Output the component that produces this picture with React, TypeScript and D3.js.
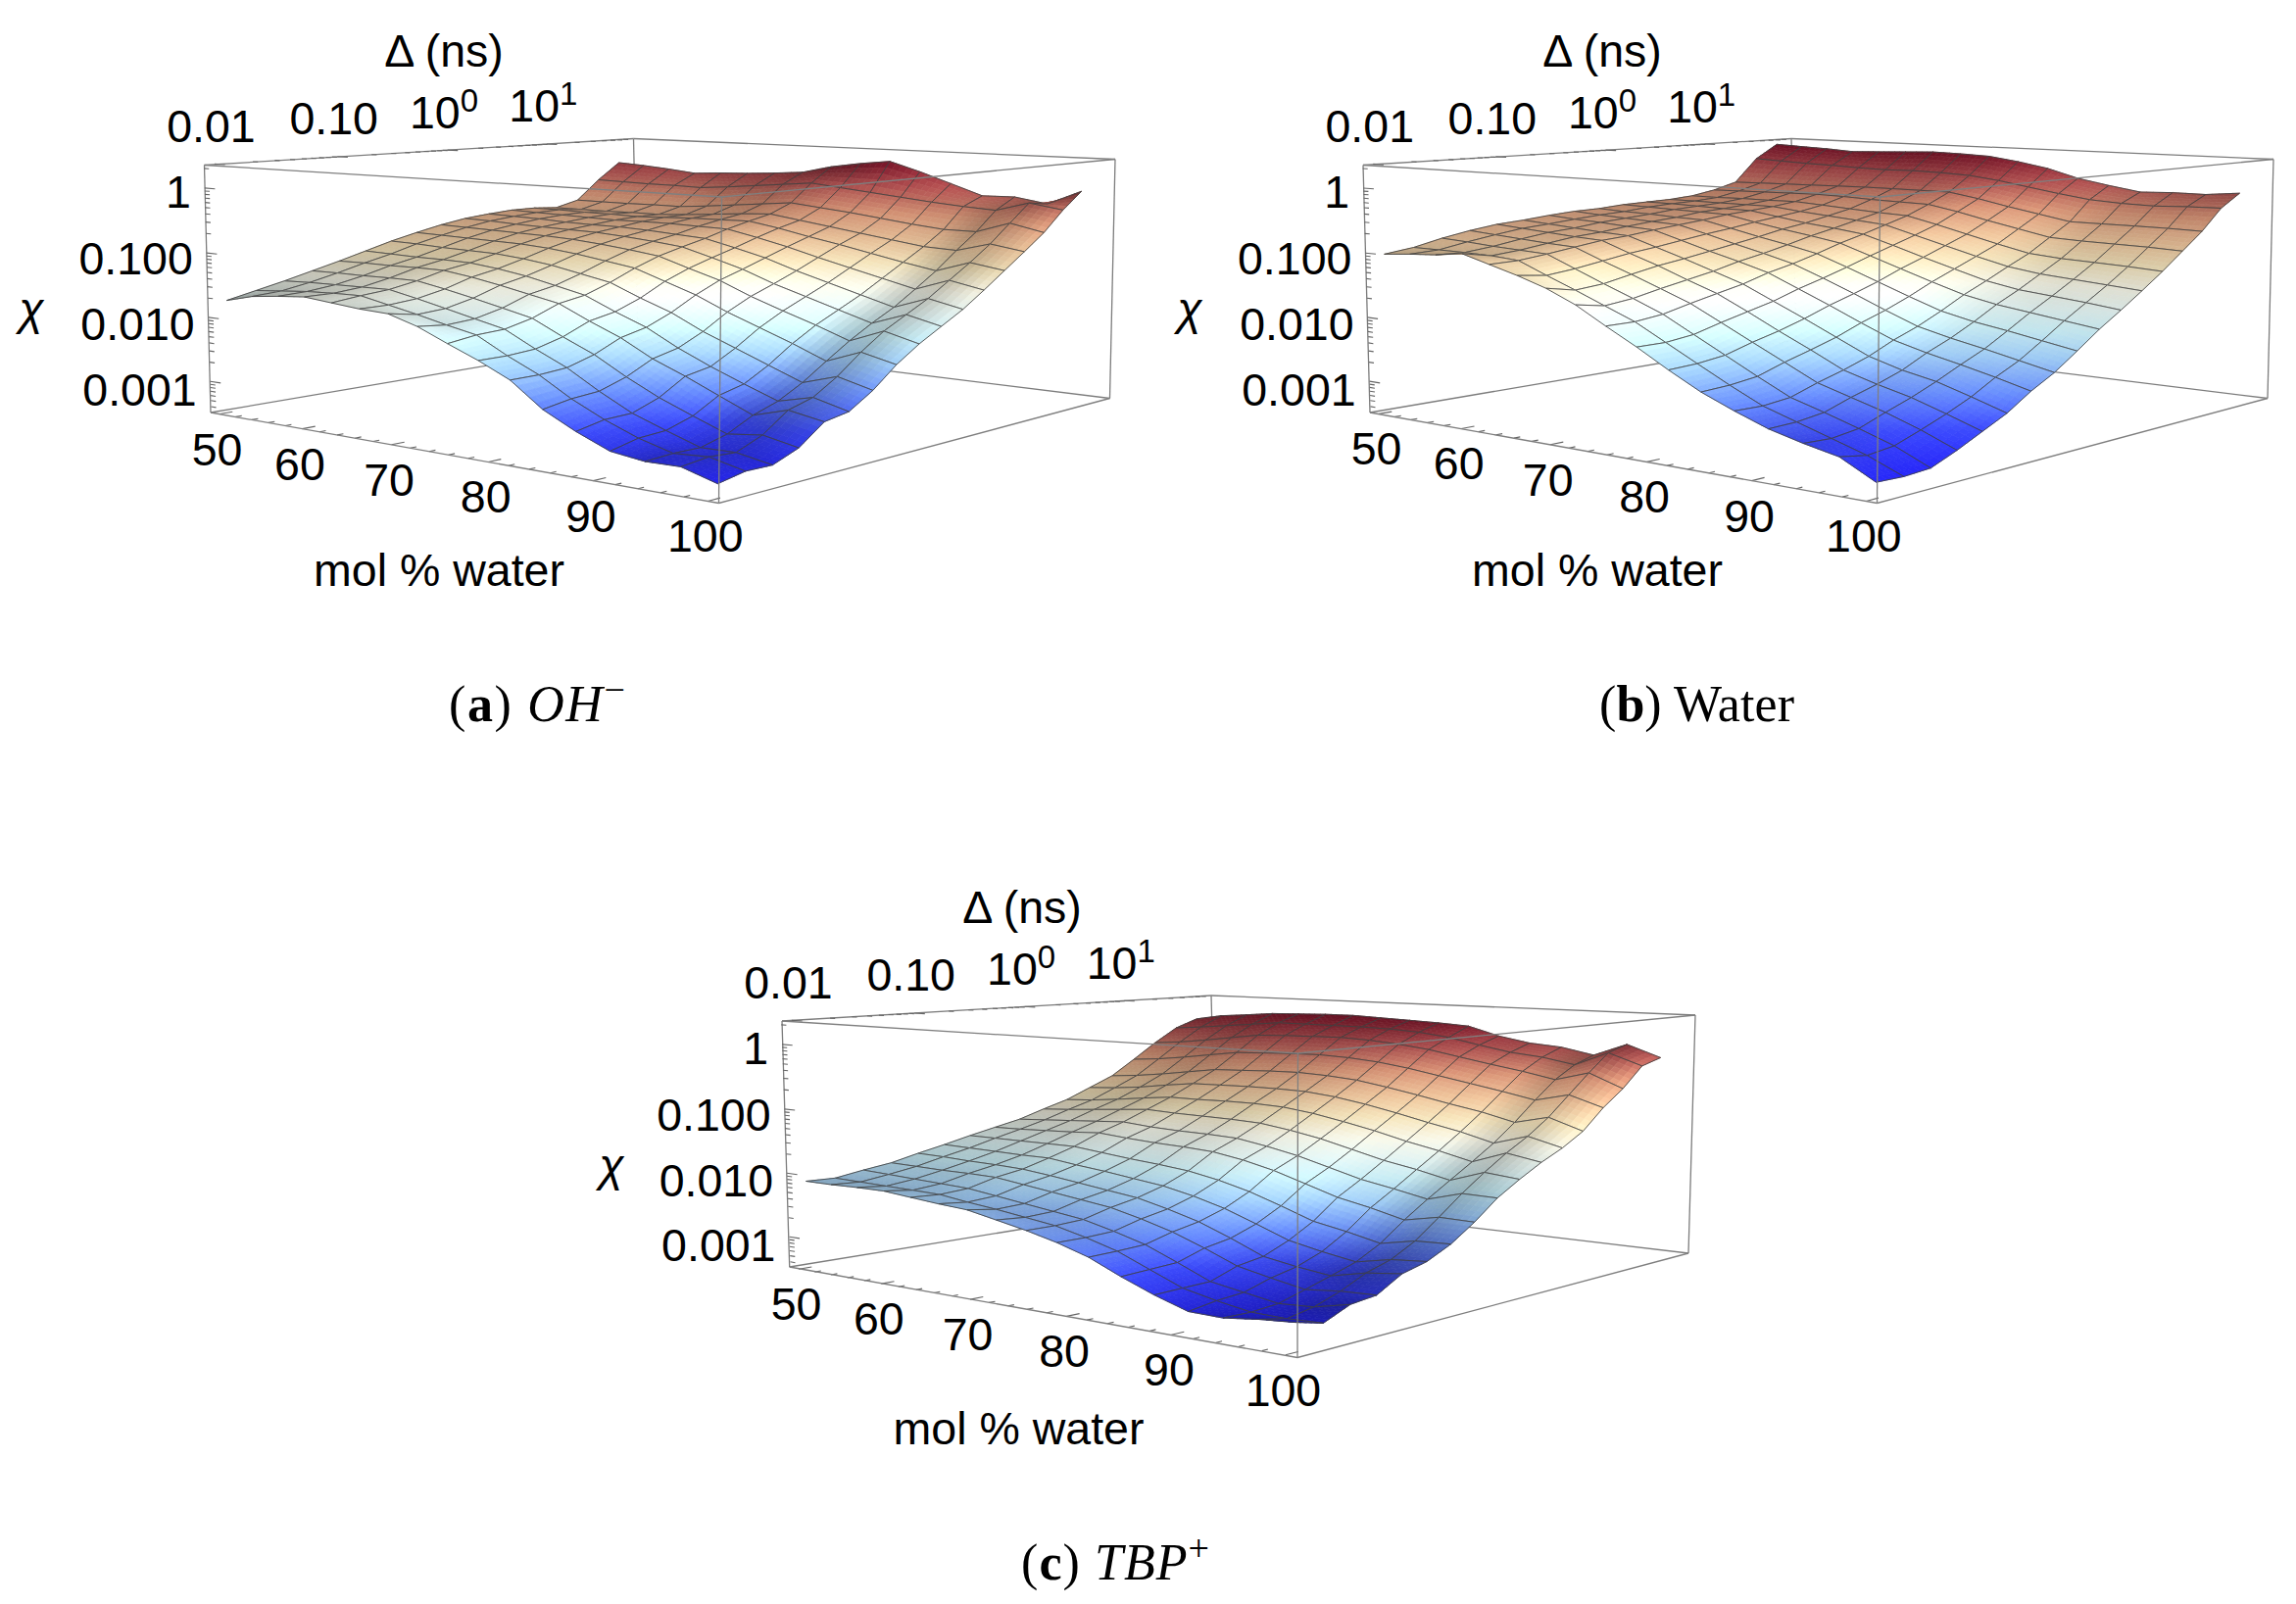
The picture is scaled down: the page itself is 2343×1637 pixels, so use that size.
import React, { useEffect, useRef } from "react";
import * as d3 from "d3";

const molTicks = [50, 60, 70, 80, 90, 100];
const deltaTickLabels = [
  { log: -2, base: "0.01", sup: "" },
  { log: -1, base: "0.10", sup: "" },
  { log: 0, base: "10", sup: "0" },
  { log: 1, base: "10", sup: "1" },
];
const chiTickLabels = [
  { log: 0, text: "1" },
  { log: -1, text: "0.100" },
  { log: -2, text: "0.010" },
  { log: -3, text: "0.001" },
];
const molGrid = [50, 53.125, 56.25, 59.375, 62.5, 65.625, 68.75, 71.875, 75, 78.125, 81.25, 84.375, 87.5, 90.625, 93.75, 96.875, 100];
const logDeltaGrid = [-2, -1.769, -1.538, -1.306, -1.075, -0.844, -0.613, -0.381, -0.15, 0.081, 0.313, 0.544, 0.775, 1.006, 1.238, 1.469, 1.7];

// log10(chi): one row per mol % water, one column per log10(delta)
const logChiOH = [
  [-1.74, -1.64, -1.54, -1.43, -1.32, -1.2, -1.08, -0.98, -0.89, -0.82, -0.78, -0.75, -0.75, -0.78, -0.68, -0.34, -0.05],
  [-1.63, -1.6, -1.52, -1.42, -1.31, -1.21, -1.09, -0.99, -0.9, -0.83, -0.79, -0.76, -0.75, -0.78, -0.68, -0.35, -0.08],
  [-1.58, -1.56, -1.51, -1.42, -1.31, -1.22, -1.11, -1.0, -0.91, -0.85, -0.8, -0.77, -0.76, -0.78, -0.68, -0.36, -0.12],
  [-1.54, -1.54, -1.5, -1.41, -1.3, -1.22, -1.12, -1.01, -0.92, -0.86, -0.82, -0.78, -0.76, -0.77, -0.67, -0.36, -0.17],
  [-1.58, -1.53, -1.49, -1.41, -1.3, -1.23, -1.13, -1.02, -0.93, -0.87, -0.83, -0.79, -0.77, -0.77, -0.67, -0.37, -0.14],
  [-1.62, -1.62, -1.58, -1.49, -1.36, -1.28, -1.17, -1.05, -0.95, -0.88, -0.83, -0.78, -0.75, -0.74, -0.63, -0.33, -0.12],
  [-1.64, -1.71, -1.68, -1.58, -1.44, -1.35, -1.23, -1.1, -0.99, -0.91, -0.85, -0.78, -0.73, -0.7, -0.58, -0.28, -0.09],
  [-1.77, -1.81, -1.78, -1.68, -1.53, -1.45, -1.32, -1.17, -1.04, -0.95, -0.88, -0.79, -0.72, -0.66, -0.53, -0.23, -0.05],
  [-1.96, -1.9, -1.88, -1.78, -1.62, -1.55, -1.41, -1.24, -1.1, -1.0, -0.91, -0.8, -0.71, -0.63, -0.48, -0.18, 0.07],
  [-2.14, -2.14, -2.11, -2.0, -1.83, -1.75, -1.6, -1.4, -1.25, -1.13, -1.02, -0.9, -0.79, -0.7, -0.53, -0.23, 0.15],
  [-2.35, -2.35, -2.32, -2.2, -2.02, -1.93, -1.77, -1.56, -1.39, -1.27, -1.14, -1.01, -0.89, -0.77, -0.58, -0.28, 0.21],
  [-2.69, -2.62, -2.59, -2.46, -2.27, -2.18, -2.0, -1.77, -1.59, -1.45, -1.3, -1.14, -0.98, -0.84, -0.64, -0.33, 0.06],
  [-2.92, -2.84, -2.83, -2.69, -2.46, -2.39, -2.19, -1.95, -1.76, -1.6, -1.44, -1.26, -1.08, -0.91, -0.7, -0.38, -0.11],
  [-3.11, -3.02, -3.0, -2.88, -2.67, -2.58, -2.38, -2.13, -1.92, -1.75, -1.58, -1.38, -1.18, -0.98, -0.75, -0.42, -0.28],
  [-3.17, -3.15, -3.16, -3.06, -2.88, -2.76, -2.57, -2.33, -2.1, -1.9, -1.72, -1.5, -1.27, -1.0, -0.75, -0.45, -0.27],
  [-3.16, -3.12, -3.15, -3.0, -2.74, -2.64, -2.42, -2.14, -1.9, -1.72, -1.54, -1.32, -1.1, -0.86, -0.58, -0.3, -0.35],
  [-3.3, -3.23, -3.24, -3.1, -2.83, -2.77, -2.55, -2.26, -2.03, -1.84, -1.65, -1.42, -1.18, -0.94, -0.69, -0.38, -0.12],
];
const logChiWater = [
  [-1.02, -0.96, -0.86, -0.78, -0.72, -0.69, -0.65, -0.62, -0.61, -0.58, -0.57, -0.56, -0.53, -0.46, -0.35, 0.05, 0.29],
  [-0.98, -0.96, -0.88, -0.81, -0.75, -0.72, -0.68, -0.65, -0.63, -0.59, -0.57, -0.56, -0.53, -0.45, -0.34, 0.03, 0.27],
  [-0.95, -0.96, -0.91, -0.84, -0.78, -0.75, -0.7, -0.67, -0.64, -0.6, -0.58, -0.56, -0.52, -0.44, -0.33, 0.01, 0.25],
  [-0.89, -0.97, -0.93, -0.87, -0.81, -0.78, -0.73, -0.69, -0.66, -0.61, -0.59, -0.56, -0.52, -0.43, -0.32, 0.0, 0.22],
  [-1.01, -1.0, -0.95, -0.89, -0.83, -0.8, -0.75, -0.71, -0.67, -0.62, -0.59, -0.56, -0.51, -0.42, -0.31, -0.02, 0.24],
  [-1.13, -1.18, -1.13, -1.06, -0.99, -0.94, -0.88, -0.82, -0.77, -0.71, -0.66, -0.61, -0.54, -0.43, -0.3, -0.03, 0.26],
  [-1.27, -1.35, -1.31, -1.22, -1.14, -1.08, -1.01, -0.94, -0.87, -0.79, -0.73, -0.65, -0.57, -0.45, -0.3, -0.02, 0.28],
  [-1.46, -1.53, -1.48, -1.39, -1.31, -1.23, -1.13, -1.05, -0.96, -0.86, -0.78, -0.69, -0.6, -0.46, -0.3, -0.03, 0.27],
  [-1.71, -1.71, -1.66, -1.56, -1.47, -1.38, -1.26, -1.17, -1.06, -0.94, -0.84, -0.73, -0.62, -0.47, -0.3, -0.05, 0.25],
  [-1.95, -1.95, -1.9, -1.79, -1.69, -1.59, -1.46, -1.35, -1.23, -1.1, -0.98, -0.86, -0.73, -0.56, -0.38, -0.11, 0.18],
  [-2.21, -2.19, -2.14, -2.02, -1.92, -1.8, -1.66, -1.54, -1.41, -1.26, -1.13, -0.99, -0.85, -0.67, -0.48, -0.19, 0.09],
  [-2.45, -2.43, -2.38, -2.25, -2.14, -2.02, -1.87, -1.74, -1.59, -1.42, -1.27, -1.12, -0.97, -0.77, -0.57, -0.27, -0.05],
  [-2.64, -2.65, -2.61, -2.48, -2.37, -2.24, -2.07, -1.93, -1.76, -1.57, -1.41, -1.24, -1.08, -0.87, -0.66, -0.34, -0.14],
  [-2.81, -2.8, -2.75, -2.62, -2.51, -2.38, -2.2, -2.05, -1.87, -1.67, -1.5, -1.31, -1.12, -0.89, -0.66, -0.37, -0.22],
  [-2.93, -2.95, -2.9, -2.76, -2.63, -2.48, -2.31, -2.15, -1.95, -1.74, -1.55, -1.35, -1.14, -0.9, -0.66, -0.38, -0.2],
  [-3.03, -3.1, -3.06, -2.93, -2.79, -2.63, -2.43, -2.26, -2.04, -1.81, -1.6, -1.39, -1.16, -0.91, -0.66, -0.36, -0.2],
  [-3.28, -3.3, -3.28, -3.13, -2.96, -2.79, -2.56, -2.37, -2.13, -1.88, -1.66, -1.43, -1.19, -0.93, -0.67, -0.35, -0.15],
];
const logChiTBP = [
  [-2.13, -2.14, -2.07, -2.01, -1.91, -1.82, -1.72, -1.63, -1.54, -1.41, -1.29, -1.12, -0.95, -0.69, -0.42, -0.18, -0.04],
  [-2.13, -2.15, -2.09, -2.02, -1.92, -1.83, -1.72, -1.62, -1.51, -1.38, -1.26, -1.09, -0.91, -0.65, -0.38, -0.14, 0.04],
  [-2.12, -2.16, -2.11, -2.03, -1.94, -1.84, -1.72, -1.6, -1.48, -1.34, -1.21, -1.04, -0.85, -0.59, -0.32, -0.09, 0.08],
  [-2.12, -2.17, -2.13, -2.03, -1.95, -1.85, -1.72, -1.58, -1.45, -1.3, -1.15, -0.97, -0.78, -0.52, -0.25, -0.04, 0.125],
  [-2.16, -2.18, -2.15, -2.04, -1.97, -1.85, -1.72, -1.55, -1.42, -1.26, -1.1, -0.91, -0.71, -0.45, -0.18, 0.01, 0.14],
  [-2.2, -2.24, -2.21, -2.1, -2.02, -1.91, -1.77, -1.59, -1.46, -1.28, -1.1, -0.9, -0.69, -0.43, -0.16, 0.01, 0.155],
  [-2.23, -2.29, -2.27, -2.16, -2.08, -1.96, -1.82, -1.62, -1.48, -1.29, -1.09, -0.89, -0.67, -0.41, -0.15, 0.01, 0.16],
  [-2.32, -2.35, -2.33, -2.22, -2.14, -2.02, -1.86, -1.64, -1.49, -1.3, -1.09, -0.89, -0.66, -0.4, -0.14, 0.01, 0.14],
  [-2.41, -2.41, -2.39, -2.28, -2.2, -2.08, -1.91, -1.67, -1.51, -1.32, -1.11, -0.9, -0.68, -0.42, -0.16, 0.0, 0.12],
  [-2.52, -2.52, -2.5, -2.39, -2.31, -2.18, -2.0, -1.75, -1.59, -1.39, -1.17, -0.95, -0.72, -0.46, -0.2, -0.03, 0.1],
  [-2.66, -2.65, -2.63, -2.52, -2.44, -2.31, -2.12, -1.86, -1.69, -1.48, -1.26, -1.03, -0.8, -0.53, -0.26, -0.09, 0.07],
  [-2.86, -2.84, -2.82, -2.69, -2.62, -2.48, -2.28, -2.01, -1.82, -1.6, -1.36, -1.13, -0.89, -0.62, -0.35, -0.19, -0.07],
  [-3.04, -3.03, -3.02, -2.88, -2.82, -2.66, -2.45, -2.16, -1.95, -1.72, -1.48, -1.24, -0.99, -0.71, -0.44, -0.28, -0.16],
  [-3.19, -3.13, -3.1, -2.98, -2.9, -2.76, -2.54, -2.26, -2.04, -1.81, -1.58, -1.34, -1.08, -0.8, -0.52, -0.33, -0.2],
  [-3.2, -3.21, -3.18, -3.07, -2.96, -2.84, -2.65, -2.38, -2.14, -1.92, -1.7, -1.47, -1.2, -0.9, -0.62, -0.42, -0.3],
  [-3.14, -3.22, -3.15, -3.02, -2.85, -2.74, -2.55, -2.28, -2.0, -1.75, -1.52, -1.32, -1.08, -0.78, -0.48, -0.2, -0.1],
  [-3.1, -3.2, -3.04, -3.0, -2.79, -2.7, -2.53, -2.29, -2.01, -1.8, -1.61, -1.45, -1.25, -0.94, -0.69, -0.375, -0.28],
];

type Pt = [number, number];
const SANS = "'Liberation Sans', Arial, sans-serif";
const SERIF = "'Liberation Serif', serif";
const FONT = 46.5;

const panels = [
  {
    data: logChiOH,
    corners: { LB: [215, 421], LT: [208.5, 168.5], FB: [733.5, 513.5], FT: [736.5, 201], RB: [1132.5, 406.5], RT: [1138, 162.5], BB: [651, 347], BT: [646.5, 141.5] } as Record<string, Pt>,
    deltaTitle: [453, 68], molTitle: [448, 598], chi: [32, 331],
    caption: { x: 458, y: 736, len: 180, letter: "a", tail: "OH", tailItalic: true, sup: "\u2212" },
  },
  {
    data: logChiWater,
    corners: { LB: [1398, 421], LT: [1391, 168.5], FB: [1915.5, 513.5], FT: [1918.5, 201], RB: [2314, 406.5], RT: [2320, 162.5], BB: [1833, 347], BT: [1828, 141.5] } as Record<string, Pt>,
    deltaTitle: [1635, 68], molTitle: [1630, 598], chi: [1214, 331],
    caption: { x: 1632, y: 736, len: 199, letter: "b", tail: "Water", tailItalic: false, sup: "" },
  },
  {
    data: logChiTBP,
    corners: { LB: [805.7, 1293], LT: [798, 1042], FB: [1324, 1385.5], FT: [1324.5, 1075], RB: [1723, 1279], RT: [1730, 1036], BB: [1241.5, 1222], BT: [1236, 1016] } as Record<string, Pt>,
    deltaTitle: [1043, 942], molTitle: [1039.5, 1473.5], chi: [624, 1205],
    caption: { x: 1042, y: 1611.5, len: 192, letter: "c", tail: "TBP", tailItalic: true, sup: "+" },
  },
];

const boxCoords: Record<string, number[]> = {
  LB: [0, 0, 0], LT: [0, 0, 1], FB: [1, 0, 0], FT: [1, 0, 1],
  RB: [1, 1, 0], RT: [1, 1, 1], BB: [0, 1, 0], BT: [0, 1, 1],
};

function solve(A: number[][], b: number[]) {
  const n = b.length;
  const M = A.map((r, i) => [...r, b[i]]);
  for (let c = 0; c < n; c++) {
    let p = c;
    for (let r = c + 1; r < n; r++) if (Math.abs(M[r][c]) > Math.abs(M[p][c])) p = r;
    [M[c], M[p]] = [M[p], M[c]];
    for (let r = 0; r < n; r++) {
      if (r === c) continue;
      const f = M[r][c] / M[c][c];
      for (let k = c; k <= n; k++) M[r][k] -= f * M[c][k];
    }
  }
  return M.map((r, i) => r[n] / r[i]);
}

function makeCamera(corners: Record<string, Pt>) {
  const rows: number[][] = [];
  const rhs: number[] = [];
  Object.keys(corners).forEach((k) => {
    const [X, Y, Z] = boxCoords[k];
    const [x, y] = corners[k];
    rows.push([X, Y, Z, 1, 0, 0, 0, 0, -x * X, -x * Y, -x * Z]);
    rhs.push(x);
    rows.push([0, 0, 0, 0, X, Y, Z, 1, -y * X, -y * Y, -y * Z]);
    rhs.push(y);
  });
  const ata = d3.range(11).map((a) => d3.range(11).map((b) => d3.sum(rows, (r) => r[a] * r[b])));
  const atb = d3.range(11).map((a) => d3.sum(rows, (r, i) => r[a] * rhs[i]));
  const p = solve(ata, atb);
  return (X: number, Y: number, Z: number): Pt => {
    const w = p[8] * X + p[9] * Y + p[10] * Z + 1;
    return [(p[0] * X + p[1] * Y + p[2] * Z + p[3]) / w, (p[4] * X + p[5] * Y + p[6] * Z + p[7]) / w];
  };
}

const colorStops: [number, string][] = [
  [0, "#2525f0"], [0.1, "#3a48f4"], [0.2, "#6a90fb"], [0.3, "#a5d3fe"], [0.38, "#d0f6ff"], [0.45, "#ecfdfb"],
  [0.52, "#fffff0"], [0.6, "#ffeec4"], [0.68, "#fbd0a5"], [0.78, "#e8a080"], [0.88, "#bd5a58"], [1, "#7d1229"],
];
const heatColor = d3.scaleLinear<string>().domain(colorStops.map((d) => d[0])).range(colorStops.map((d) => d[1])).interpolate(d3.interpolateRgb).clamp(true);

const uScale = d3.scaleLinear().domain([50, 100]).range([0.02, 0.98]);
const vScale = d3.scaleLinear().domain([-2, 1.9]).range([0.02, 0.98]);
const zScale = d3.scaleLinear().domain([-3.49, 0.36]).range([0, 1]);

const SUB = 5;
const pathOf = (pts: Pt[]) => "M" + pts.map((p) => p[0].toFixed(1) + "," + p[1].toFixed(1)).join("L");

function drawPanel(root: d3.Selection<SVGSVGElement, unknown, null, undefined>, panel: (typeof panels)[number]) {
  const g = root.append("g");
  const cam = makeCamera(panel.corners);
  const c = panel.corners;
  const boxStroke = "#7d7d7d";
  const line = (par: any, a: Pt, b: Pt, w = 1.3, col = boxStroke) =>
    par.append("path").attr("d", pathOf([a, b])).attr("stroke", col).attr("stroke-width", w).attr("fill", "none");

  // back box edges
  [["LB", "BB"], ["BB", "RB"], ["BB", "BT"], ["LT", "BT"], ["BT", "RT"], ["LB", "LT"], ["RB", "RT"]].forEach(([a, b]) => line(g, c[a], c[b]));

  // ticks
  const tick = (a: number[], b: number[], w = 1.1) => line(g, cam(a[0], a[1], a[2]), cam(b[0], b[1], b[2]), w, "#666");
  d3.range(50, 101, 2).forEach((m) => {
    const major = m % 10 === 0;
    tick([uScale(m), 0, 0], [uScale(m), major ? 0.025 : 0.012, 0]);
  });
  for (let e = -2; e <= 1; e++) {
    for (let k = 1; k < 10; k++) {
      const l = e + Math.log10(k);
      if (l > 1.9) continue;
      tick([0, vScale(l), 1], [k === 1 ? 0.025 : 0.012, vScale(l), 1]);
    }
  }
  for (let e = -4; e <= 0; e++) {
    for (let k = 1; k < 10; k++) {
      const l = e + Math.log10(k);
      if (l < -3.49 || l > 0.36) continue;
      tick([0, 0, zScale(l)], [k === 1 ? 0.025 : 0.012, 0, zScale(l)]);
    }
  }

  // surface
  const Z = panel.data;
  const [zmin, zmax] = d3.extent(Z.flat()) as [number, number];
  const tOf = d3.scaleLinear().domain([zmin, zmax]).range([0, 1]);
  const n = Z.length;
  const m = Z[0].length;
  const gradU = (i: number, j: number) => (Z[Math.min(i + 1, n - 1)][j] - Z[Math.max(i - 1, 0)][j]) / ((Math.min(i + 1, n - 1) - Math.max(i - 1, 0)) / (n - 1));
  const gradV = (i: number, j: number) => (Z[i][Math.min(j + 1, m - 1)] - Z[i][Math.max(j - 1, 0)]) / ((Math.min(j + 1, m - 1) - Math.max(j - 1, 0)) / (m - 1));
  const light = Z.map((row, i) => row.map((_, j) => Math.max(0.58, Math.min(1.04, 0.76 + 0.09 * -gradU(i, j) + 0.015 * gradV(i, j)))));

  const P = (i: number, j: number, z: number) => cam(uScale(molGrid[i]), vScale(logDeltaGrid[j]), zScale(z));
  const bil = (T: number[][], i: number, j: number, a: number, b: number) =>
    T[i][j] * (1 - a) * (1 - b) + T[i + 1][j] * a * (1 - b) + T[i][j + 1] * (1 - a) * b + T[i + 1][j + 1] * a * b;
  const Pf = (i: number, j: number, a: number, b: number): Pt => {
    const u = molGrid[i] + (molGrid[i + 1] - molGrid[i]) * a;
    const v = logDeltaGrid[j] + (logDeltaGrid[j + 1] - logDeltaGrid[j]) * b;
    return cam(uScale(u), vScale(v), zScale(bil(Z, i, j, a, b)));
  };

  const surf = g.append("g");
  for (let i = 0; i < n - 1; i++) {
    for (let j = m - 2; j >= 0; j--) {
      const cell = surf.append("g");
      for (let ai = 0; ai < SUB; ai++) {
        for (let bi = SUB - 1; bi >= 0; bi--) {
          const a0 = ai / SUB, a1 = (ai + 1) / SUB, b0 = bi / SUB, b1 = (bi + 1) / SUB;
          const am = (a0 + a1) / 2, bm = (b0 + b1) / 2;
          const col = d3.rgb(heatColor(tOf(bil(Z, i, j, am, bm))));
          const L = bil(light, i, j, am, bm);
          const fill = d3.rgb(Math.min(255, col.r * L), Math.min(255, col.g * L), Math.min(255, col.b * L)).formatHex();
          cell.append("path").attr("d", pathOf([Pf(i, j, a0, b0), Pf(i, j, a1, b0), Pf(i, j, a1, b1), Pf(i, j, a0, b1)]) + "Z")
            .attr("fill", fill).attr("stroke", fill).attr("stroke-width", 0.7);
        }
      }
      const a = P(i, j, Z[i][j]), b = P(i + 1, j, Z[i + 1][j]), d = P(i + 1, j + 1, Z[i + 1][j + 1]), e = P(i, j + 1, Z[i][j + 1]);
      cell.append("path").attr("d", pathOf([a, b, d, e]) + "Z").attr("fill", "none").attr("stroke", "#404040").attr("stroke-width", 0.85).attr("stroke-linejoin", "round");
    }
  }

  // front box edges
  [["LT", "FT"], ["FT", "RT"], ["FT", "FB"], ["LB", "FB"], ["FB", "RB"]].forEach(([a, b]) => line(g, c[a], c[b], 1.3, "#7f7f7f"));

  // text
  const text = (x: number, y: number, s: string, anchor = "middle") =>
    g.append("text").attr("x", x).attr("y", y).attr("text-anchor", anchor).attr("font-family", SANS).attr("font-size", FONT).attr("fill", "#000").text(s);

  molTicks.forEach((mol) => {
    const p = cam(uScale(mol), 0, 0);
    text(p[0] - 2.5, p[1] + 52, String(mol));
  });
  deltaTickLabels.forEach((t) => {
    const p = cam(0, vScale(t.log), 1);
    const el = text(p[0] - 3.5, p[1] - 22.5, t.base);
    if (t.sup) el.append("tspan").attr("font-size", 33).attr("dy", -17).text(t.sup);
  });
  chiTickLabels.forEach((t) => {
    const p = cam(0, 0, zScale(t.log));
    text(p[0] - 14, p[1] + 20 - 1.75 * t.log, t.text, "end");
  });
  text(panel.deltaTitle[0], panel.deltaTitle[1], "\u0394 (ns)");
  text(panel.molTitle[0], panel.molTitle[1], "mol % water");
  text(panel.chi[0], panel.chi[1], "\u03c7").attr("font-style", "italic");

  const cap = panel.caption;
  const t = g.append("text").attr("x", cap.x).attr("y", cap.y).attr("font-family", SERIF).attr("font-size", 52).attr("fill", "#000").attr("textLength", cap.len).attr("lengthAdjust", "spacing");
  t.append("tspan").text("(");
  t.append("tspan").attr("font-weight", "bold").text(cap.letter);
  t.append("tspan").text(") ");
  t.append("tspan").attr("font-style", cap.tailItalic ? "italic" : "normal").text(cap.tail);
  if (cap.sup) t.append("tspan").attr("dy", -19).attr("font-size", 38).text(cap.sup);
}

export default function App() {
  const ref = useRef<SVGSVGElement>(null);
  useEffect(() => {
    const svg = d3.select(ref.current as SVGSVGElement);
    svg.selectAll("*").remove();
    panels.forEach((p) => drawPanel(svg as any, p));
  }, []);
  return <svg ref={ref} width={2343} height={1637} viewBox="0 0 2343 1637" style={{ position: "absolute", left: 0, top: 0, background: "#fff" }} />;
}
